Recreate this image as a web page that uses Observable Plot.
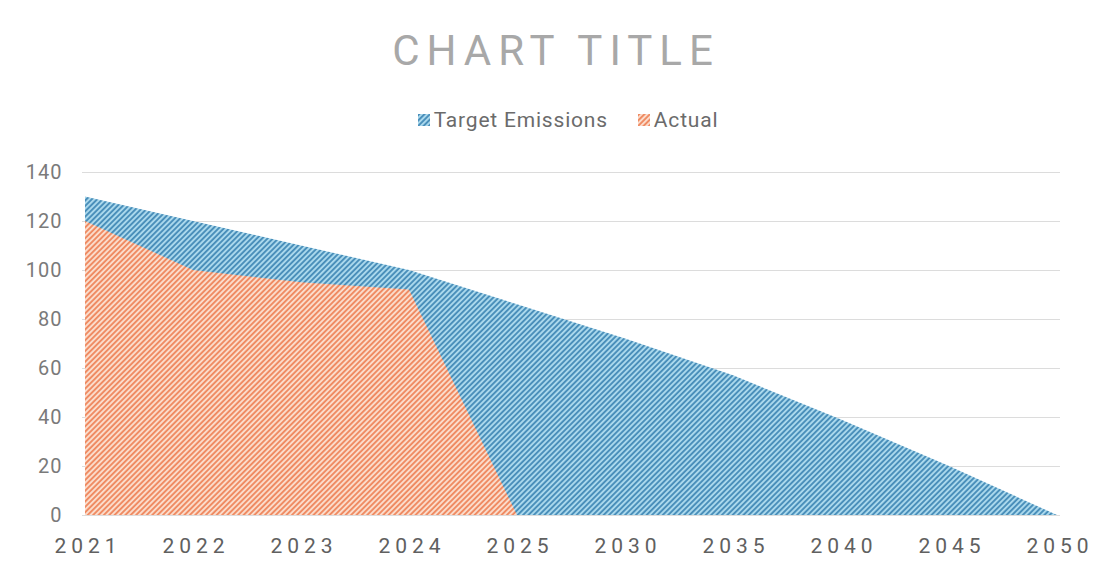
<!DOCTYPE html>
<html>
<head>
<meta charset="utf-8">
<script src="https://cdn.jsdelivr.net/npm/d3@7"></script>
<script src="https://cdn.jsdelivr.net/npm/@observablehq/plot@0.6"></script>
<style>
  html, body { margin: 0; padding: 0; background: #ffffff; }
  #wrap { position: relative; width: 1120px; height: 577px; overflow: hidden; font-family: Roboto, "Liberation Sans", sans-serif; }
  #title { position: absolute; left: 0; width: 1112px; top: 26px; text-align: center; font-size: 42px; letter-spacing: 7px; color: #a8a8a8; font-weight: 400; }
  #legend { position: absolute; left: 0; width: 1136px; top: 108px; display: flex; justify-content: center; gap: 30px; font-size: 21px; letter-spacing: 0.8px; color: #6b6b6b; }
  #legend span.item { display: inline-flex; align-items: center; gap: 4px; }
  #chart { position: absolute; left: 0; top: 150px; }
</style>
</head>
<body>
<div id="wrap">
  <div id="title">CHART TITLE</div>
  <div id="legend"></div>
  <div id="chart"></div>
</div>
<script>
// ---- data ----
const categories = ["2021", "2022", "2023", "2024", "2025", "2030", "2035", "2040", "2045", "2050"];
const targetEmissions = [130, 120, 110, 100, 86, 72, 57, 39, 20, 0];
const actualYears = ["2021", "2022", "2023", "2024", "2025"];
const actualValues = [120, 100, 95, 92, 0];
const yTicks = [0, 20, 40, 60, 80, 100, 120, 140];
const seriesNames = ["Target Emissions", "Actual"];

const targetRows = categories.map((c, i) => ({year: c, value: targetEmissions[i]}));
const actualRows = actualYears.map((c, i) => ({year: c, value: actualValues[i]}));

const plot = Plot.plot({
  width: 1120,
  height: 427,
  marginTop: 22,
  marginBottom: 62,
  marginLeft: 82,
  marginRight: 60,
  style: {fontFamily: "Roboto, 'Liberation Sans', sans-serif", background: "transparent"},
  x: {type: "point", domain: categories, padding: 0},
  y: {domain: [0, 140]},
  marks: [
    Plot.ruleY(yTicks, {stroke: "#dcdcdc", strokeWidth: 1}),
    Plot.areaY(targetRows, {x: "year", y: "value", fill: "url(#hatchBlue)", curve: "linear"}),
    Plot.areaY(actualRows, {x: "year", y: "value", fill: "url(#hatchOrange)", curve: "linear"}),
    Plot.axisY({ticks: yTicks, tickSize: 0, tickPadding: 20, fontSize: 20, color: "#7a7a7a", label: null}),
    Plot.axisX({tickSize: 0, tickPadding: 23, fontSize: 21, color: "#606060", label: null})
  ]
});

// hatch patterns
const NS = "http://www.w3.org/2000/svg";
const defs = document.createElementNS(NS, "defs");
function makePattern(id, dark, light, size) {
  const p = document.createElementNS(NS, "pattern");
  p.setAttribute("id", id);
  p.setAttribute("patternUnits", "userSpaceOnUse");
  p.setAttribute("width", size);
  p.setAttribute("height", size);
  p.setAttribute("patternTransform", "rotate(45)");
  const bg = document.createElementNS(NS, "rect");
  bg.setAttribute("width", size); bg.setAttribute("height", size); bg.setAttribute("fill", light);
  const st = document.createElementNS(NS, "rect");
  st.setAttribute("width", size / 2); st.setAttribute("height", size); st.setAttribute("fill", dark);
  p.appendChild(bg); p.appendChild(st);
  return p;
}
defs.appendChild(makePattern("hatchBlue", "#4a8fba", "#aad8ec", 3.8));
defs.appendChild(makePattern("hatchOrange", "#ef8b63", "#fbdccb", 3.8));
plot.insertBefore(defs, plot.firstChild);

plot.querySelectorAll('[aria-label="y-axis tick label"] text').forEach(t => {
  t.setAttribute("letter-spacing", "1");
});
plot.querySelectorAll('[aria-label="x-axis tick label"] text').forEach(t => {
  t.setAttribute("letter-spacing", "5");
  t.setAttribute("dx", "2.5");
});

document.getElementById("chart").appendChild(plot);

// legend
const legend = document.getElementById("legend");
const fills = ["url(#hatchBlue)", "url(#hatchOrange)"];
seriesNames.forEach((name, i) => {
  const item = document.createElement("span");
  item.className = "item";
  const sw = document.createElementNS(NS, "svg");
  sw.setAttribute("width", 12); sw.setAttribute("height", 12);
  const r = document.createElementNS(NS, "rect");
  r.setAttribute("width", 12); r.setAttribute("height", 12); r.setAttribute("fill", fills[i]);
  sw.appendChild(r);
  item.appendChild(sw);
  const label = document.createElement("span");
  label.textContent = name;
  item.appendChild(label);
  legend.appendChild(item);
});
</script>
</body>
</html>
